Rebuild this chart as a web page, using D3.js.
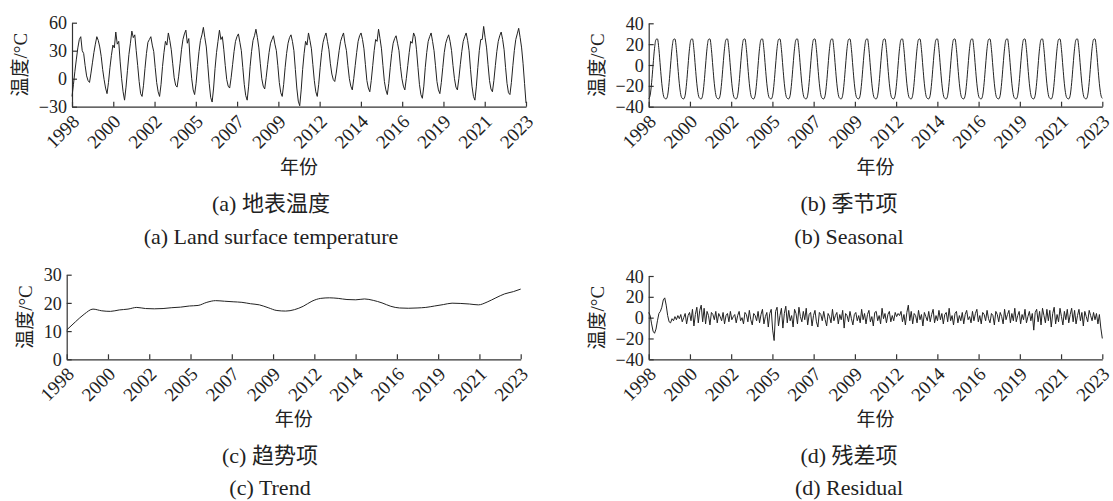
<!DOCTYPE html>
<html>
<head>
<meta charset="utf-8">
<script src="https://cdn.jsdelivr.net/npm/d3@7/dist/d3.min.js"></script>
<style>
body{margin:0;background:#fff}
svg{display:block}
</style>
</head>
<body>
<svg id="chart" width="1113" height="501"></svg>
<script>
// tick labels on every x axis (12 evenly spaced ticks over the monthly index)
var yearLabels=["1998","2000","2002","2005","2007","2009","2012","2014","2016","2019","2021","2023"];
var lastMonth=311;   // Jan 1998 .. Dec 2023, monthly index

// (a) land surface temperature, monthly, one line per year
var lst=[
 -19,-6,8,21,33,42,45,30,27,14,3,-2,
 -4,6,17,28,37,45,41,34,24,10,-1,-10,
 -16,-4,12,25,36,33,50,37,40,18,0,-14,
 -23,-9,9,26,38,51,44,47,30,14,-3,-16,
 -19,-7,11,27,39,42,45,36,29,12,-4,-14,
 -19,-6,13,28,40,36,49,41,31,16,1,-7,
 -9,2,16,31,42,48,52,38,43,18,0,-12,
 -17,-5,13,29,41,47,55,44,34,15,-5,-20,
 -25,-10,11,28,40,52,42,45,31,14,-1,-8,
 -10,1,15,29,40,45,48,39,30,12,-6,-18,
 -23,-8,13,29,41,46,53,44,33,16,0,-8,
 -11,1,15,28,38,42,46,37,30,14,-4,-15,
 -19,-6,12,27,38,44,47,40,30,10,-10,-24,
 -29,-12,10,27,40,36,49,41,32,15,-2,-14,
 -19,-6,12,28,39,45,49,40,31,16,5,-1,
 -3,6,18,30,40,45,49,38,30,14,0,-8,
 -12,0,14,28,40,46,49,42,32,15,-2,-10,
 -14,-2,14,30,42,40,53,43,32,14,-3,-12,
 -17,-5,12,27,38,43,46,38,30,13,0,-8,
 -12,0,14,28,40,38,49,45,31,12,-6,-17,
 -21,-8,12,28,40,45,49,40,30,14,-3,-12,
 -16,-4,12,28,38,43,47,40,30,14,0,-9,
 -12,0,15,29,40,45,49,41,30,10,-8,-19,
 -23,-8,12,30,42,42,56,44,33,15,-2,-11,
 -14,-2,14,29,40,46,50,42,31,12,-5,-15,
 -17,-4,14,30,42,48,54,44,33,16,-5,-26
];

// (b) seasonal component, monthly
var seasonal=[
 -32.5,-29,-17,0,16,24.5,25,15,-2,-18,-28.5,-32,
 -32.5,-29,-17,0,16,24.5,25,15,-2,-18,-28.5,-32,
 -32.5,-29,-17,0,16,24.5,25,15,-2,-18,-28.5,-32,
 -32.5,-29,-17,0,16,24.5,25,15,-2,-18,-28.5,-32,
 -32.5,-29,-17,0,16,24.5,25,15,-2,-18,-28.5,-32,
 -32.5,-29,-17,0,16,24.5,25,15,-2,-18,-28.5,-32,
 -32.5,-29,-17,0,16,24.5,25,15,-2,-18,-28.5,-32,
 -32.5,-29,-17,0,16,24.5,25,15,-2,-18,-28.5,-32,
 -32.5,-29,-17,0,16,24.5,25,15,-2,-18,-28.5,-32,
 -32.5,-29,-17,0,16,24.5,25,15,-2,-18,-28.5,-32,
 -32.5,-29,-17,0,16,24.5,25,15,-2,-18,-28.5,-32,
 -32.5,-29,-17,0,16,24.5,25,15,-2,-18,-28.5,-32,
 -32.5,-29,-17,0,16,24.5,25,15,-2,-18,-28.5,-32,
 -32.5,-29,-17,0,16,24.5,25,15,-2,-18,-28.5,-32,
 -32.5,-29,-17,0,16,24.5,25,15,-2,-18,-28.5,-32,
 -32.5,-29,-17,0,16,24.5,25,15,-2,-18,-28.5,-32,
 -32.5,-29,-17,0,16,24.5,25,15,-2,-18,-28.5,-32,
 -32.5,-29,-17,0,16,24.5,25,15,-2,-18,-28.5,-32,
 -32.5,-29,-17,0,16,24.5,25,15,-2,-18,-28.5,-32,
 -32.5,-29,-17,0,16,24.5,25,15,-2,-18,-28.5,-32,
 -32.5,-29,-17,0,16,24.5,25,15,-2,-18,-28.5,-32,
 -32.5,-29,-17,0,16,24.5,25,15,-2,-18,-28.5,-32,
 -32.5,-29,-17,0,16,24.5,25,15,-2,-18,-28.5,-32,
 -32.5,-29,-17,0,16,24.5,25,15,-2,-18,-28.5,-32,
 -32.5,-29,-17,0,16,24.5,25,15,-2,-18,-28.5,-32,
 -32.5,-29,-17,0,16,24.5,25,15,-2,-18,-28.5,-32
];

// (c) trend component, read every half year
var trendMonths=[0,6,12,18,24,30,36,42,48,54,60,66,72,78,84,90,96,102,108,114,120,126,132,138,144,150,
 156,162,168,174,180,186,192,198,204,210,216,222,228,234,240,246,252,258,264,270,276,282,288,294,300,306,311];
var trendValues=[10.4,13.3,16.0,17.8,17.2,17.0,17.5,17.8,18.4,18.0,17.9,18.0,18.3,18.5,18.9,19.1,20.2,20.8,20.6,20.4,20.2,19.7,19.3,18.3,17.3,17.1,
 17.6,18.8,20.6,21.6,21.8,21.6,21.2,21.1,21.4,20.9,20.0,18.8,18.2,18.1,18.2,18.4,18.9,19.4,19.9,19.8,19.6,19.3,20.3,21.8,23.2,24.0,24.9];

// (d) residual component, monthly, two years per line
var residual=[
 5,2,-6,-13,-15,-11,-3,4,6,10,17,19,12,2,-4,-5,-1,-3,1,-2,2,-1,3,-4,
 0,4,-6,2,5,-3,8,-8,3,10,-5,7,12,-4,9,-6,6,2,-7,5,3,-2,6,-5,
 4,1,-3,5,-6,2,4,-4,6,-2,1,3,-5,2,6,-3,0,-6,5,3,-4,7,-2,-7,
 4,2,-3,6,-5,3,8,-6,1,5,-9,4,8,-12,-22,6,10,-8,2,9,-10,4,11,-5,
 7,-3,2,-9,8,4,-6,10,1,-4,6,-2,9,-7,3,5,-8,2,7,-4,-9,5,3,-3,
 6,-2,-8,4,1,-5,8,-3,2,5,-6,3,-2,7,-10,4,2,-4,6,-1,-7,3,5,-3,
 2,-5,8,-2,4,-6,3,7,-4,1,-8,5,6,-3,2,-6,9,-1,4,-5,3,6,-4,2,
 -3,5,1,4,2,6,-4,3,-7,5,12,-3,6,-6,4,2,-5,7,-2,3,-8,5,1,-3,
 6,-4,3,8,-5,2,-3,7,-2,4,-6,3,5,-4,9,-3,2,-7,4,6,-5,2,-3,5,
 -6,3,7,-2,1,-5,6,-3,4,8,-4,2,-6,5,3,-3,7,-1,-5,4,2,-7,6,3,
 -4,5,1,-6,8,-2,3,7,-5,4,-3,9,-4,2,6,-6,3,-2,8,-5,1,6,-3,4,
 -12,5,8,-4,6,-7,9,2,-5,8,-3,7,-9,4,10,-6,3,-4,9,1,-7,6,-2,8,
 -5,3,9,-4,7,-6,2,8,-3,5,-8,6,1,-4,7,2,-3,5,-2,4,-6,3,-10,-20
];

var lineColor="#222";
var axisColor="#333";
var latinFont="'Liberation Serif','Times New Roman',serif";
var cjkFont="'Liberation Serif','Noto Sans CJK SC',sans-serif";

var svg=d3.select("#chart");
svg.append("rect").attr("width",1113).attr("height",501).attr("fill","#fff");

var tickPos=yearLabels.map(function(d,i){return i*lastMonth/(yearLabels.length-1);});

var panels=[
 {x0:72,x1:526,yTop:22.7,yBot:106.7,dom:[-30,60],yTicks:[-30,0,30,60],
  xs:d3.range(lst.length),ys:lst,curve:d3.curveLinear,
  ylabX:20,titleY:167,capX:271,capCnY:203,capEnY:236,
  cn:"(a) 地表温度",en:"(a) Land surface temperature"},
 {x0:648.7,x1:1102.3,yTop:23.3,yBot:106.7,dom:[-40,40],yTicks:[-40,-20,0,20,40],
  xs:d3.range(seasonal.length),ys:seasonal,curve:d3.curveMonotoneX,
  ylabX:597,titleY:167,capX:849,capCnY:203,capEnY:236,
  cn:"(b) 季节项",en:"(b) Seasonal"},
 {x0:66.7,x1:520.7,yTop:274.7,yBot:359.3,dom:[0,30],yTicks:[0,10,20,30],
  xs:trendMonths,ys:trendValues,curve:d3.curveMonotoneX,
  ylabX:25,titleY:419,capX:270,capCnY:455,capEnY:487,
  cn:"(c) 趋势项",en:"(c) Trend"},
 {x0:648.7,x1:1102.3,yTop:276,yBot:359.3,dom:[-40,40],yTicks:[-40,-20,0,20,40],
  xs:d3.range(residual.length),ys:residual,curve:d3.curveLinear,
  ylabX:597,titleY:419,capX:849,capCnY:455,capEnY:487,
  cn:"(d) 残差项",en:"(d) Residual"}
];

panels.forEach(drawPanel);

function drawPanel(p){
	var x=d3.scaleLinear().domain([0,lastMonth]).range([p.x0,p.x1]);
	var y=d3.scaleLinear().domain(p.dom).range([p.yBot,p.yTop]);
	var g=svg.append("g");

	//x axis, ticks pointing inward
	var xAx=g.append("g")
		.attr("transform","translate(0,"+p.yBot+")")
		.call(d3.axisBottom(x).tickValues(tickPos)
			.tickFormat(function(d,i){return yearLabels[i];})
			.tickSizeInner(-5).tickSizeOuter(0));
	xAx.selectAll("text")
		.attr("x",0).attr("y",0).attr("dy",0)
		.attr("text-anchor","end")
		.attr("transform","translate(8,16) rotate(-45)")
		.style("font-family",latinFont).style("font-size","19px").attr("fill","#222");

	//y axis
	var yAx=g.append("g")
		.attr("transform","translate("+p.x0+",0)")
		.call(d3.axisLeft(y).tickValues(p.yTicks)
			.tickSizeInner(-5).tickSizeOuter(0).tickPadding(5)
			.tickFormat(function(d){return d<0?"\u2212"+Math.abs(d):d;}));
	yAx.selectAll("text")
		.attr("dy","0.34em")
		.style("font-family",latinFont).style("font-size","18px").attr("fill","#222");

	[xAx,yAx].forEach(function(a){
		a.selectAll("path,line").attr("stroke",axisColor).attr("stroke-width",1.2);
	});

	//series
	var pts=p.xs.map(function(m,i){return [m,p.ys[i]];});
	g.append("path")
		.datum(pts)
		.attr("fill","none")
		.attr("stroke",lineColor)
		.attr("stroke-width",1)
		.attr("stroke-linejoin","round")
		.attr("d",d3.line().curve(p.curve)
			.x(function(d){return x(d[0]);})
			.y(function(d){return y(d[1]);}));

	//axis titles
	g.append("text")
		.attr("transform","translate("+p.ylabX+","+((p.yTop+p.yBot)/2)+") rotate(-90)")
		.attr("text-anchor","middle").attr("dominant-baseline","central")
		.style("font-family",cjkFont).style("font-size","19px").attr("fill","#222")
		.text("温度/°C");
	g.append("text")
		.attr("x",(p.x0+p.x1)/2).attr("y",p.titleY)
		.attr("text-anchor","middle").attr("dominant-baseline","central")
		.style("font-family",cjkFont).style("font-size","19px").attr("fill","#222")
		.text("年份");

	//captions
	g.append("text")
		.attr("x",p.capX).attr("y",p.capCnY)
		.attr("text-anchor","middle").attr("dominant-baseline","central")
		.style("font-family",cjkFont).style("font-size","22px").attr("fill","#222")
		.text(p.cn);
	g.append("text")
		.attr("x",p.capX).attr("y",p.capEnY)
		.attr("text-anchor","middle").attr("dominant-baseline","central")
		.style("font-family",latinFont).style("font-size","22px").attr("fill","#222")
		.text(p.en);
}
</script>
</body>
</html>
